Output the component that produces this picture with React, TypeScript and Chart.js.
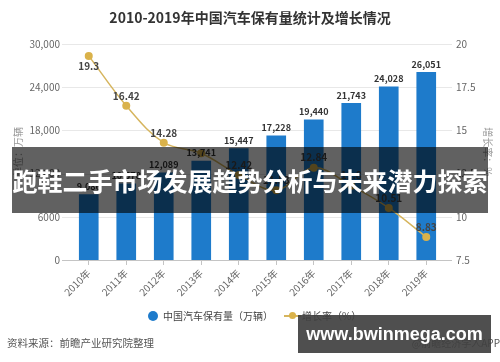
import React, { useEffect, useRef } from "react";
import { Chart, registerables } from "chart.js";

Chart.register(...registerables);

const years = ["2010年", "2011年", "2012年", "2013年", "2014年", "2015年", "2016年", "2017年", "2018年", "2019年"];
const ownership = [9086, 10578, 12089, 13741, 15447, 17228, 19440, 21743, 24028, 26051];
const growth = [19.3, 16.42, 14.28, 13.67, 12.42, 11.53, 12.84, 11.8, 10.51, 8.83];
const leftTickMin = 0;
const leftTickMax = 30000;
const leftTickStep = 6000;
const rightTickMin = 7.5;
const rightTickMax = 20;
const rightTickStep = 2.5;

const FONT = '"Noto Sans CJK SC", "Noto Sans", sans-serif';
const BAR_COLOR = "#1e7bcb";
const LINE_COLOR = "#d6b55e";

const fmtThousands = (v: number) =>
  v >= 10000 ? v.toLocaleString("en-US") : String(v);

const gridPlugin = {
  id: "extGrid",
  beforeDatasetsDraw(chart: any) {
    const { ctx, chartArea, scales } = chart;
    const y = scales.y;
    const x0 = chartArea.left - 8;
    const x1 = chartArea.right + 7;
    ctx.save();
    y.ticks.forEach((t: any) => {
      const py = Math.round(y.getPixelForValue(t.value)) + 0.5;
      ctx.beginPath();
      ctx.strokeStyle = t.value === 0 ? "#c4c4c4" : "#e8e8e8";
      ctx.lineWidth = 1;
      ctx.moveTo(x0, py);
      ctx.lineTo(x1, py);
      ctx.stroke();
    });
    ctx.restore();
  },
};

const labelPlugin = {
  id: "valueLabels",
  afterDatasetsDraw(chart: any) {
    const { ctx, chartArea } = chart;
    const barMeta = chart.getDatasetMeta(0);
    const lineMeta = chart.getDatasetMeta(1);
    ctx.save();
    ctx.textAlign = "center";
    ctx.textBaseline = "middle";
    const barLabelY: number[] = [];
    ctx.font = `bold 9px ${FONT}`;
    ctx.fillStyle = "#333";
    barMeta.data.forEach((el: any, i: number) => {
      const ly = el.y - 8;
      barLabelY.push(ly);
      ctx.fillText(ownership[i].toLocaleString("en-US"), el.x, ly);
    });
    ctx.font = `bold 10px ${FONT}`;
    ctx.fillStyle = "#444";
    lineMeta.data.forEach((el: any, i: number) => {
      const below = el.y - chartArea.top < 20;
      const ly = below ? el.y + 10 : el.y - 10;
      if (Math.abs(ly - barLabelY[i]) < 12 && Math.abs(el.x - barMeta.data[i].x) < 5) return;
      ctx.fillText(String(growth[i]), el.x, ly);
    });
    ctx.restore();
  },
};

export default function App() {
  const ref = useRef<HTMLCanvasElement>(null);
  useEffect(() => {
    if (!ref.current) return;
    Chart.defaults.font.family = FONT;
    const chart = new Chart(ref.current, {
      type: "bar",
      data: {
        labels: years,
        datasets: [
          {
            type: "bar",
            label: "中国汽车保有量（万辆）",
            data: ownership,
            backgroundColor: BAR_COLOR,
            yAxisID: "y",
            barThickness: 19,
            order: 1,
          },
          {
            type: "line",
            label: "增长率（%）",
            data: growth,
            borderColor: LINE_COLOR,
            borderWidth: 1.5,
            backgroundColor: "#dab24a",
            pointBackgroundColor: "#dab24a",
            pointBorderWidth: 0,
            pointRadius: 4,
            tension: 0.35,
            yAxisID: "y1",
            order: 0,
          },
        ] as any,
      },
      options: {
        responsive: false,
        animation: false,
        devicePixelRatio: 1,
        layout: { padding: { left: 0, right: 0, top: 0, bottom: 62 } },
        plugins: {
          legend: { display: false },
          tooltip: { enabled: false },
          title: {
            display: true,
            text: "2010-2019年中国汽车保有量统计及增长情况",
            color: "#333",
            font: { size: 14, weight: "bold", family: FONT },
            padding: { top: 9, bottom: 18 },
          },
        },
        scales: {
          x: {
            grid: {
              display: true,
              drawOnChartArea: false,
              drawTicks: true,
              tickLength: 5,
              color: "#c4c4c4",
              offset: false,
            },
            border: { display: false },
            ticks: {
              autoSkip: false,
              minRotation: 45,
              maxRotation: 45,
              color: "#666",
              font: { size: 10, family: FONT },
              padding: 2,
            },
            afterFit: (s: any) => {
              s.height = 40;
            },
          },
          y: {
            position: "left",
            min: leftTickMin,
            max: leftTickMax,
            ticks: {
              stepSize: leftTickStep,
              color: "#666",
              font: { size: 10, family: FONT },
              padding: 10,
              callback: (v: any) => fmtThousands(Number(v)),
            },
            grid: { display: false, drawTicks: false },
            border: { display: false },
            title: {
              display: true,
              text: "单位：万辆",
              color: "#999",
              font: { size: 10, family: FONT },
              padding: { top: 12, bottom: 0 },
            },
            afterFit: (s: any) => {
              s.width = 70;
            },
          },
          y1: {
            position: "right",
            min: rightTickMin,
            max: rightTickMax,
            ticks: {
              stepSize: rightTickStep,
              color: "#666",
              font: { size: 10, family: FONT },
              padding: 11,
              callback: (v: any) => String(v),
            },
            grid: { display: false, drawTicks: false },
            border: { display: false },
            title: {
              display: true,
              text: "增长率：%",
              color: "#999",
              font: { size: 10, family: FONT },
              padding: { top: 6, bottom: 0 },
            },
            afterFit: (s: any) => {
              s.width = 55;
            },
          },
        },
      } as any,
      plugins: [gridPlugin, labelPlugin],
    });
    return () => chart.destroy();
  }, []);

  return (
    <div
      style={{
        position: "fixed",
        left: 0,
        top: 0,
        width: 500,
        height: 362,
        background: "#fff",
        fontFamily: FONT,
        overflow: "hidden",
      }}
    >
      <canvas ref={ref} width={500} height={362} style={{ width: 500, height: 362, display: "block" }} />
      {/* legend */}
      <div style={{ position: "absolute", left: 148, top: 311, width: 10, height: 10, borderRadius: 5, background: BAR_COLOR }} />
      <div style={{ position: "absolute", left: 163, top: 308, fontSize: 10, lineHeight: "16px", color: "#444", whiteSpace: "nowrap" }}>
        中国汽车保有量（万辆）
      </div>
      <div style={{ position: "absolute", left: 284, top: 315, width: 17, height: 1.5, background: LINE_COLOR }} />
      <div style={{ position: "absolute", left: 289, top: 312, width: 7, height: 7, borderRadius: 4, background: "#dab24a" }} />
      <div style={{ position: "absolute", left: 302, top: 308, fontSize: 10, lineHeight: "16px", color: "#444", whiteSpace: "nowrap" }}>
        增长率（%）
      </div>
      {/* footer */}
      <div style={{ position: "absolute", left: 7, top: 335, fontSize: 10.5, lineHeight: "16px", color: "#555", whiteSpace: "nowrap" }}>
        资料来源：前瞻产业研究院整理
      </div>
      <div style={{ position: "absolute", right: 0, top: 335, fontSize: 10, lineHeight: "16px", color: "#555", whiteSpace: "nowrap" }}>
        @前瞻经济学人APP
      </div>
      {/* banner overlay */}
      <div
        style={{
          position: "absolute",
          left: 12,
          top: 147,
          width: 476,
          height: 66,
          background: "rgba(0,0,0,0.62)",
          display: "flex",
          alignItems: "center",
          justifyContent: "center",
          color: "#fff",
          fontWeight: "bold",
          fontSize: 25,
          whiteSpace: "nowrap",
        }}
      >
        跑鞋二手市场发展趋势分析与未来潜力探索
      </div>
      {/* watermark box */}
      <div
        style={{
          position: "absolute",
          left: 298,
          top: 315,
          width: 193,
          height: 38,
          background: "rgba(64,64,64,0.92)",
          display: "flex",
          alignItems: "center",
          justifyContent: "center",
          color: "#fff",
          fontWeight: "bold",
          fontSize: 18,
          fontFamily: '"Liberation Sans", Arial, sans-serif',
          whiteSpace: "nowrap",
        }}
      >
        www.bwinmega.com
      </div>
    </div>
  );
}
